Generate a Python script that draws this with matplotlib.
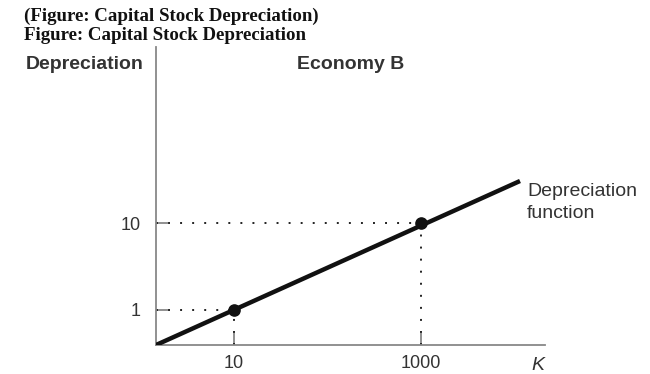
import matplotlib
matplotlib.use("Agg")
import matplotlib.pyplot as plt

# schematic positions (arbitrary units) for the depreciation function
line_x = [0.0, 36.4]
line_y = [0.0, 16.4]
point_x = [7.8, 26.5]
point_y = [3.5, 12.2]
x_tick_labels = ["10", "1000"]
y_tick_labels = ["1", "10"]

fig = plt.figure(figsize=(6.5, 3.74), dpi=100)
W, H = 650, 374
ax = fig.add_axes([156 / W, 1 - 345 / H, 389 / W, 298 / H])
ax.set_xlim(0, 38.9)
ax.set_ylim(0, 29.8)

axis_col = "#888888"
for s in ["top", "right"]:
    ax.spines[s].set_visible(False)
for s in ["left", "bottom"]:
    ax.spines[s].set_color(axis_col)
    ax.spines[s].set_linewidth(1.3)

ax.plot(line_x, line_y, color="#111111", lw=3.2, solid_capstyle="butt", zorder=3)
ax.scatter(point_x, point_y, s=65, color="#111111", zorder=4)

for px, py in zip(point_x, point_y):
    ax.plot([0, px], [py, py], color="#222222", lw=1.4, ls=(0, (1, 5.2)), zorder=2)
    ax.plot([px, px], [0, py], color="#222222", lw=1.4, ls=(0, (1, 5.2)), zorder=2)

ax.set_xticks(point_x)
ax.set_xticklabels(x_tick_labels)
ax.set_yticks(point_y)
ax.set_yticklabels(y_tick_labels)
ax.tick_params(axis="both", direction="in", length=8.5, width=1.3, color=axis_col,
               labelsize=13, labelcolor="#333333")
ax.tick_params(axis="x", pad=7)
ax.tick_params(axis="y", pad=11)
for lab in ax.get_xticklabels() + ax.get_yticklabels():
    lab.set_fontfamily("Liberation Sans")

fig.text(24 / W, 1 - 21 / H, "(Figure: Capital Stock Depreciation)", family="Liberation Serif",
         weight="bold", fontsize=13.6, va="baseline", ha="left", color="#111111")
fig.text(24 / W, 1 - 39.5 / H, "Figure: Capital Stock Depreciation", family="Liberation Serif",
         weight="bold", fontsize=13.6, va="baseline", ha="left", color="#111111")
fig.text(26 / W, 1 - 69 / H, "Depreciation", family="Liberation Sans", weight="bold",
         fontsize=14, va="baseline", ha="left", color="#333333")
fig.text(351 / W, 1 - 69 / H, "Economy B", family="Liberation Sans", weight="bold",
         fontsize=14, va="baseline", ha="center", color="#333333")
fig.text(527 / W, 1 - 195.5 / H, "Depreciation", family="Liberation Sans",
         fontsize=14, va="baseline", ha="left", color="#333333")
fig.text(527 / W, 1 - 218 / H, "function", family="Liberation Sans",
         fontsize=14, va="baseline", ha="left", color="#333333")
fig.text(538 / W, 1 - 370 / H, "K", family="Liberation Sans", style="italic",
         fontsize=14, va="baseline", ha="center", color="#333333")

fig.savefig("out.png", dpi=100)
